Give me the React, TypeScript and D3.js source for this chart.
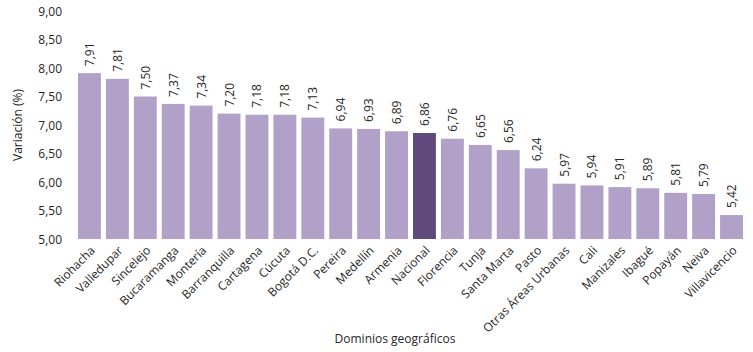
import * as d3 from "d3";

const categories = [
  "Riohacha", "Valledupar", "Sincelejo", "Bucaramanga", "Montería", "Barranquilla",
  "Cartagena", "Cúcuta", "Bogotá D.C.", "Pereira", "Medellín", "Armenia", "Nacional",
  "Florencia", "Tunja", "Santa Marta", "Pasto", "Otras Áreas Urbanas", "Cali",
  "Manizales", "Ibagué", "Popayán", "Neiva", "Villavicencio",
];
const values = [
  7.91, 7.81, 7.5, 7.37, 7.34, 7.2, 7.18, 7.18, 7.13, 6.94, 6.93, 6.89, 6.86,
  6.76, 6.65, 6.56, 6.24, 5.97, 5.94, 5.91, 5.89, 5.81, 5.79, 5.42,
];
const yTicks = [5, 5.5, 6, 6.5, 7, 7.5, 8, 8.5, 9];
const highlight = "Nacional";

const W = 753;
const H = 352;
const font = "'Open Sans', 'Noto Sans', sans-serif";
const fmt = (v: number) => v.toFixed(2).replace(".", ",");

export default function App() {
  const x = d3.scaleBand<string>().domain(categories).range([75.5, 745.5]).paddingInner(0.18).paddingOuter(0.09);
  const y = d3.scaleLinear().domain([5, 9]).range([239, 11]);

  return (
    <svg width={W} height={H} style={{ position: "absolute", left: 0, top: 0, background: "#fff" }} fontFamily={font}>
      {yTicks.map((t) => (
        <text key={t} x={62} y={y(t)} textAnchor="end" dominantBaseline="central" fontSize={12} fill="#262626">
          {fmt(t)}
        </text>
      ))}
      <text transform={`translate(17,${125}) rotate(-90)`} textAnchor="middle" dominantBaseline="central" fontSize={12} fill="#262626">
        Variación (%)
      </text>
      {categories.map((c, i) => {
        const bx = x(c)!;
        const cx = bx + x.bandwidth() / 2;
        return (
          <g key={c}>
            <rect x={bx} y={y(values[i])} width={x.bandwidth()} height={y(5) - y(values[i])}
              fill={c === highlight ? "#604A7B" : "#B1A0C7"} />
            <text transform={`translate(${cx},${y(values[i]) - 7}) rotate(-90)`} dominantBaseline="central"
              fontSize={12} fill="#262626">
              {fmt(values[i])}
            </text>
            <text transform={`translate(${cx + 3},${248}) rotate(-45)`} textAnchor="end" dominantBaseline="central"
              fontSize={12} fill="#262626">
              {c}
            </text>
          </g>
        );
      })}
      <text x={395} y={338} textAnchor="middle" dominantBaseline="central" fontSize={12} fill="#262626">
        Dominios geográficos
      </text>
    </svg>
  );
}
